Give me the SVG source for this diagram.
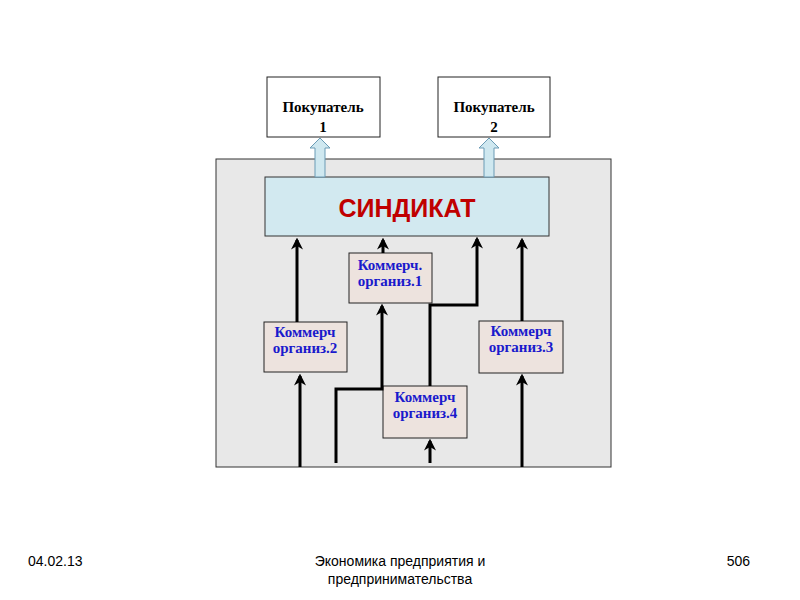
<svg xmlns="http://www.w3.org/2000/svg" width="800" height="600" viewBox="0 0 800 600">
<style>
.org{fill:#ede3de;stroke:#222;stroke-width:1}
.ot{font-family:"Liberation Serif",serif;font-weight:bold;font-size:15px;fill:#1a1acc;text-anchor:middle}
.bt{font-family:"Liberation Serif",serif;font-weight:bold;font-size:15px;fill:#000;text-anchor:middle}
.ft{font-family:"Liberation Sans",sans-serif;font-size:14px;fill:#000}
.c{fill:none;stroke:#000;stroke-width:3;marker-end:url(#a)}
.h{fill:#cfe8f0;stroke:#6a9bb5;stroke-width:1}
</style>
<defs>
<marker id="a" viewBox="0 0 10 10" refX="8" refY="5" markerWidth="4" markerHeight="4" orient="auto" markerUnits="strokeWidth">
<path d="M0,0 L10,5 L0,10 L3,5 Z" fill="#000"/>
</marker>
</defs>
<rect x="216" y="159" width="395" height="308" fill="#e8e8e8" stroke="#333"/>
<g id="buyer1"><rect x="267" y="77" width="113" height="60" fill="#fff" stroke="#222"/><text class="bt" x="323" y="112">Покупатель</text><text class="bt" x="323" y="132">1</text></g>
<g id="buyer2"><rect x="438" y="77" width="112" height="60" fill="#fff" stroke="#222"/><text class="bt" x="494" y="112">Покупатель</text><text class="bt" x="494" y="132">2</text></g>
<g id="syndicate"><rect x="265" y="177" width="284" height="59" fill="#d2e9f0" stroke="#333"/><text x="407" y="217" font-family="Liberation Sans,sans-serif" font-weight="bold" font-size="25" fill="#c00000" text-anchor="middle">СИНДИКАТ</text></g>
<g id="org1"><rect class="org" x="349" y="253" width="83" height="50"/><text class="ot" x="390" y="270">Коммерч.</text><text class="ot" x="390" y="286">организ.1</text></g>
<g id="org2"><rect class="org" x="264" y="322" width="83" height="50"/><text class="ot" x="305" y="337">Коммерч</text><text class="ot" x="305" y="353">организ.2</text></g>
<g id="org3"><rect class="org" x="479" y="321" width="84" height="52"/><text class="ot" x="521" y="336">Коммерч</text><text class="ot" x="521" y="352">организ.3</text></g>
<g id="org4"><rect class="org" x="383" y="386" width="84" height="52"/><text class="ot" x="425" y="402">Коммерч</text><text class="ot" x="425" y="418">организ.4</text></g>
<g id="connectors">
<path class="h" d="M315,177 V148 H310 L320,138 L330,148 H325 V177 Z"/>
<path class="h" d="M484,177 V148 H479 L489,138 L499,148 H494 V177 Z"/>
<path class="c" d="M297,322 V240"/>
<path class="c" d="M300,467 V376"/>
<path class="c" d="M383,253 V240"/>
<path class="c" d="M336,463 V389 H382 V306"/>
<path class="c" d="M430,386 V305 H477 V239"/>
<path class="c" d="M430,463 V441"/>
<path class="c" d="M522,321 V240"/>
<path class="c" d="M522,467 V376"/>
</g>
<text class="ft" x="28" y="566">04.02.13</text>
<text class="ft" x="400" y="566" text-anchor="middle">Экономика предприятия и</text>
<text class="ft" x="400" y="584" text-anchor="middle">предпринимательства</text>
<text class="ft" x="750" y="566" text-anchor="end">506</text>
</svg>
